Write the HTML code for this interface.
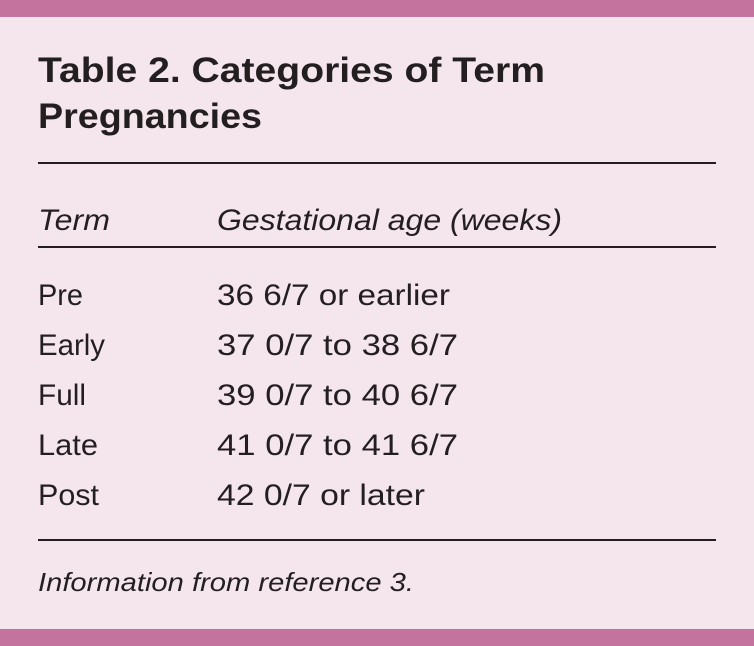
<!DOCTYPE html>
<html><head><meta charset="utf-8"><style>
html,body{margin:0;padding:0;background:#f5e6ee;}
svg{display:block}
text{font-family:"Liberation Sans",sans-serif;fill:#231f20}
</style></head><body>
<svg width="754" height="646" viewBox="0 0 754 646">
<rect x="0" y="0" width="754" height="646" fill="#f5e6ee"/>
<rect x="0" y="0" width="754" height="17" fill="#c4739e"/>
<rect x="0" y="629" width="754" height="17" fill="#c4739e"/>
<text x="38" y="82" font-size="35" font-weight="bold" textLength="507" lengthAdjust="spacingAndGlyphs">Table 2. Categories of Term</text>
<text x="38" y="128" font-size="35" font-weight="bold" textLength="224" lengthAdjust="spacingAndGlyphs">Pregnancies</text>
<rect x="38" y="162" width="678" height="2" fill="#231f20"/>
<text x="38" y="230" font-size="30" font-style="italic" textLength="72" lengthAdjust="spacingAndGlyphs">Term</text>
<text x="217" y="230" font-size="30" font-style="italic" textLength="345" lengthAdjust="spacingAndGlyphs">Gestational age (weeks)</text>
<rect x="38" y="246" width="678" height="2" fill="#231f20"/>
<g font-size="30">
<text x="38" y="305" textLength="45" lengthAdjust="spacingAndGlyphs">Pre</text><text x="217" y="305" textLength="233" lengthAdjust="spacingAndGlyphs">36 6/7 or earlier</text>
<text x="38" y="355" textLength="67" lengthAdjust="spacingAndGlyphs">Early</text><text x="217" y="355" textLength="241" lengthAdjust="spacingAndGlyphs">37 0/7 to 38 6/7</text>
<text x="38" y="405" textLength="48" lengthAdjust="spacingAndGlyphs">Full</text><text x="217" y="405" textLength="241" lengthAdjust="spacingAndGlyphs">39 0/7 to 40 6/7</text>
<text x="38" y="455" textLength="60" lengthAdjust="spacingAndGlyphs">Late</text><text x="217" y="455" textLength="241" lengthAdjust="spacingAndGlyphs">41 0/7 to 41 6/7</text>
<text x="38" y="505" textLength="61" lengthAdjust="spacingAndGlyphs">Post</text><text x="217" y="505" textLength="208" lengthAdjust="spacingAndGlyphs">42 0/7 or later</text>
</g>
<rect x="38" y="539" width="678" height="2" fill="#231f20"/>
<text x="38" y="591" font-size="26" font-style="italic" textLength="376" lengthAdjust="spacingAndGlyphs">Information from reference 3.</text>
</svg>
</body></html>
